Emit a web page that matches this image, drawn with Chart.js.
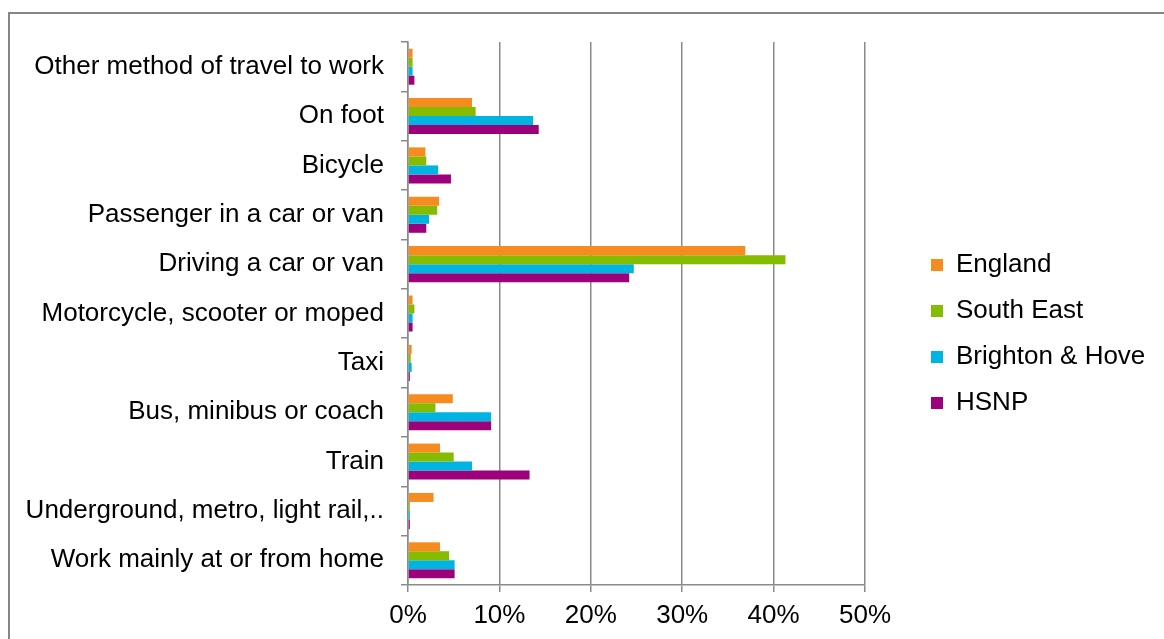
<!DOCTYPE html>
<html>
<head>
<meta charset="utf-8">
<title>Method of travel to work</title>
<script src="https://cdn.jsdelivr.net/npm/chart.js@4"></script>
<style>
  html, body { margin: 0; padding: 0; background: #ffffff; }
  canvas { display: block; }
</style>
</head>
<body>
<canvas id="chart" width="1164" height="639"></canvas>
<script>
// Travel-to-work categories, listed top to bottom
const categories = [
  "Other method of travel to work",
  "On foot",
  "Bicycle",
  "Passenger in a car or van",
  "Driving a car or van",
  "Motorcycle, scooter or moped",
  "Taxi",
  "Bus, minibus or coach",
  "Train",
  "Underground, metro, light rail,..",
  "Work mainly at or from home"
];

// Share of working residents (%) for each area
const england      = [0.5, 7.0, 1.9, 3.4, 36.9, 0.5, 0.4, 4.9, 3.5, 2.8, 3.5];
const southEast    = [0.5, 7.4, 2.0, 3.2, 41.3, 0.7, 0.3, 3.0, 5.0, 0.2, 4.5];
const brightonHove = [0.5, 13.7, 3.3, 2.3, 24.7, 0.5, 0.4, 9.1, 7.0, 0.2, 5.1];
const hsnp         = [0.7, 14.3, 4.7, 2.0, 24.2, 0.5, 0.2, 9.1, 13.3, 0.2, 5.1];

const seriesNames = ["England", "South East", "Brighton & Hove", "HSNP"];

// Percentage axis ticks
const xTicks = [0, 10, 20, 30, 40, 50];
const xTickLabels = ["0%", "10%", "20%", "30%", "40%", "50%"];

const FONT = "'Liberation Sans', Arial, sans-serif";
const GRID = "#8a8a8a";

// Frame around the chart and legend placement beside the plot
const framePlugin = {
  id: "frame",
  beforeLayout(chart) {
    const L = chart.legend;
    if (L && !L._fixedWidth) {
      const fit = L.fit;
      L.fit = function () { fit.call(this); this.width = 299; };
      L._fixedWidth = true;
    }
  },
  afterLayout(chart) {
    const L = chart.legend;
    if (!L) return;
    const pad = L.options.labels.padding;
    const dx = 931 - (L.left + pad);
    L.left += dx; L.right += dx;
    const dy = 334 - (L.top + L.bottom) / 2;
    L.top += dy; L.bottom += dy;
  },
  beforeDraw(chart) {
    const ctx = chart.ctx;
    ctx.save();
    ctx.fillStyle = "#ffffff";
    ctx.fillRect(0, 0, chart.width, chart.height);
    ctx.strokeStyle = "#868686";
    ctx.lineWidth = 2;
    ctx.beginPath();
    ctx.moveTo(9, chart.height + 2);
    ctx.lineTo(9, 13);
    ctx.lineTo(chart.width + 2, 13);
    ctx.stroke();
    ctx.restore();
  }
};

const colors = ["#F68B1F", "#85BC00", "#00B4E1", "#9C007A"];
const values = [england, southEast, brightonHove, hsnp];

new Chart(document.getElementById("chart"), {
  type: "bar",
  data: {
    labels: categories,
    datasets: seriesNames.map((name, i) => ({
      label: name,
      data: values[i],
      backgroundColor: colors[i],
      borderWidth: 0,
      categoryPercentage: 0.73,
      barPercentage: 1.0
    }))
  },
  options: {
    indexAxis: "y",
    responsive: false,
    animation: false,
    devicePixelRatio: 1,
    layout: { padding: { top: 42, left: 0, right: 0, bottom: 0 } },
    plugins: {
      tooltip: { enabled: false },
      legend: {
        position: "right",
        align: "center",
        labels: {
          boxWidth: 12,
          boxHeight: 12,
          padding: 20,
          color: "#000000",
          font: { family: FONT, size: 26 }
        }
      }
    },
    scales: {
      x: {
        min: xTicks[0],
        max: xTicks[xTicks.length - 1],
        afterBuildTicks(scale) {
          scale.ticks = xTicks.map(v => ({ value: v }));
        },
        afterFit(scale) { scale.height = 54; },
        ticks: {
          padding: 8,
          color: "#000000",
          font: { family: FONT, size: 26 },
          callback: (v) => xTickLabels[xTicks.indexOf(v)]
        },
        grid: {
          color: GRID,
          lineWidth: 1.5,
          tickLength: 7,
          drawTicks: true
        },
        border: { color: GRID, width: 1.5 }
      },
      y: {
        afterFit(scale) { scale.width = 408; },
        ticks: {
          padding: 17,
          color: "#000000",
          autoSkip: false,
          font: { family: FONT, size: 26 }
        },
        grid: {
          color: GRID,
          lineWidth: 1.5,
          drawOnChartArea: false,
          drawTicks: true,
          tickLength: 7,
          offset: true
        },
        border: { color: GRID, width: 1.5 }
      }
    }
  },
  plugins: [framePlugin]
});
</script>
</body>
</html>
